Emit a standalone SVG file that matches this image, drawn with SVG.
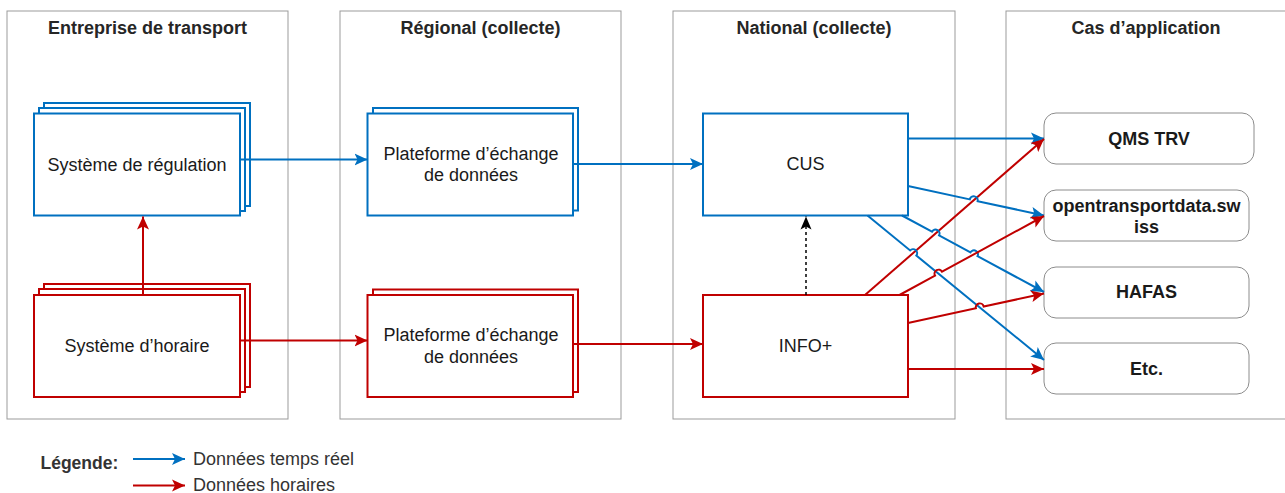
<svg xmlns="http://www.w3.org/2000/svg" width="1285" height="493" viewBox="0 0 1285 493">
<style>
text{font-family:"Liberation Sans",Arial,Helvetica,sans-serif;fill:#1a1a1a}
.hdr{font-size:18px;font-weight:bold;text-anchor:middle;fill:#262626}
.lbl{font-size:18px;text-anchor:middle}
.app{font-size:18px;font-weight:bold;text-anchor:middle}
.lane{fill:#fff;stroke:#9b9b9b;stroke-width:1}
.nb{fill:#fff;stroke:#0070C0;stroke-width:2}
.nr{fill:#fff;stroke:#C00000;stroke-width:2}
.ap{fill:#fff;stroke:#8c8c8c;stroke-width:1}
.eb{fill:none;stroke:#0070C0;stroke-width:2;marker-end:url(#ab)}
.er{fill:none;stroke:#C00000;stroke-width:2;marker-end:url(#ar)}
.ek{fill:none;stroke:#000;stroke-width:1.5;stroke-dasharray:3 3;marker-end:url(#ak)}
.leg{font-size:18px;fill:#333}
</style>
<defs>
<marker id="ab" markerWidth="14" markerHeight="14" refX="13" refY="7" orient="auto" markerUnits="userSpaceOnUse" viewBox="0 0 14 14"><path d="M0,1 L13,7 L0,13 L3,7 Z" fill="#0070C0"/></marker>
<marker id="ar" markerWidth="14" markerHeight="14" refX="13" refY="7" orient="auto" markerUnits="userSpaceOnUse" viewBox="0 0 14 14"><path d="M0,1 L13,7 L0,13 L3,7 Z" fill="#C00000"/></marker>
<marker id="ak" markerWidth="14" markerHeight="14" refX="13" refY="7" orient="auto" markerUnits="userSpaceOnUse" viewBox="0 0 14 14"><path d="M0,1.5 L13,7 L0,12.5 L3,7 Z" fill="#000"/></marker>
</defs>
<rect width="1285" height="493" fill="#fff"/>
<g id="lanes">
<g id="lane-entreprise"><rect class="lane" x="7" y="11" width="281" height="408"/><text class="hdr" x="147.5" y="34.3">Entreprise de transport</text></g>
<g id="lane-regional"><rect class="lane" x="340" y="11" width="281" height="408"/><text class="hdr" x="480.5" y="34.3">Régional (collecte)</text></g>
<g id="lane-national"><rect class="lane" x="673" y="11" width="282" height="408"/><text class="hdr" x="814" y="34.3">National (collecte)</text></g>
<g id="lane-cas"><rect class="lane" x="1006" y="11" width="290" height="408"/><text class="hdr" x="1146" y="34.3">Cas d’application</text></g>
</g>
<g id="node-regulation">
<rect class="nb" x="44" y="103" width="206" height="103"/>
<rect class="nb" x="39" y="108" width="206" height="103"/>
<rect class="nb" x="34" y="113.5" width="206" height="102"/>
<text class="lbl" x="137" y="170.8">Système de régulation</text>
</g>
<g id="node-horaire">
<rect class="nr" x="44" y="284" width="206" height="103"/>
<rect class="nr" x="39" y="289" width="206" height="103"/>
<rect class="nr" x="34" y="295" width="206" height="102"/>
<text class="lbl" x="137" y="352.3">Système d’horaire</text>
</g>
<g id="node-plateforme-rt">
<rect class="nb" x="373" y="108" width="205" height="102.5"/>
<rect class="nb" x="367.5" y="113.5" width="205.5" height="102"/>
<text class="lbl" x="471" y="159.6">Plateforme d’échange</text>
<text class="lbl" x="471" y="181.3">de données</text>
</g>
<g id="node-plateforme-h">
<rect class="nr" x="373" y="289.5" width="205" height="102.5"/>
<rect class="nr" x="367.5" y="295" width="205.5" height="102"/>
<text class="lbl" x="471" y="341.3">Plateforme d’échange</text>
<text class="lbl" x="471" y="363">de données</text>
</g>
<g id="node-cus">
<rect class="nb" x="703" y="113.5" width="205" height="102"/>
<text class="lbl" x="805.5" y="170">CUS</text>
</g>
<g id="node-info">
<rect class="nr" x="703" y="295" width="205" height="102"/>
<text class="lbl" x="805.5" y="352.3">INFO+</text>
</g>
<g id="node-qms"><rect class="ap" x="1044" y="113" width="210" height="51" rx="12"/><text class="app" x="1149" y="144.6">QMS TRV</text></g>
<g id="node-otd"><rect class="ap" x="1044" y="190" width="205" height="51" rx="12"/><text class="app" x="1146.5" y="212.3">opentransportdata.sw</text><text class="app" x="1146.5" y="232.5">iss</text></g>
<g id="node-hafas"><rect class="ap" x="1044" y="267" width="205" height="51" rx="12"/><text class="app" x="1146.5" y="298.2">HAFAS</text></g>
<g id="node-etc"><rect class="ap" x="1044" y="343" width="205" height="51" rx="12"/><text class="app" x="1146.5" y="375">Etc.</text></g>
<g id="connectors">
<path class="eb" d="M240,159.5 L367.5,159.5"/>
<path class="er" d="M240,340.5 L367.5,340.5"/>
<path class="er" d="M143,295 L143,216.5"/>
<path class="eb" d="M573,164 L703,164"/>
<path class="er" d="M573,344 L703,344"/>
<path class="ek" d="M806,295 L806,216.5"/>
<path class="eb" d="M908,138.5 L1044,138.5"/>
<path class="er" d="M865,295 L1044,139"/>
<path class="eb" d="M908,186 L969.81,199.41 A4,4 0 0 1 977.63,201.11 L1044,215.5"/>
<path class="eb" d="M902,215.5 L931.99,231.65 A4,4 0 0 1 939.03,235.45 L970.46,252.38 A4,4 0 0 1 977.50,256.18 L1044,292"/>
<path class="eb" d="M867.5,215.5 L910.16,250.43 A4,4 0 0 1 916.34,255.49 L1044,360"/>
<path class="er" d="M899.5,295 L935.03,275.57 A4,4 0 0 1 942.05,271.73 L1044,216"/>
<path class="er" d="M908,323 L975.88,308.27 A4,4 0 0 1 983.70,306.57 L1044,293.5"/>
<path class="er" d="M908,369 L1044,369"/>
</g>
<g id="legend">
<text x="40.5" y="469.3" style="font-size:17.5px;font-weight:bold;fill:#333">Légende:</text>
<path class="eb" d="M133,459 L185,459"/>
<text class="leg" x="193" y="465">Données temps réel</text>
<path class="er" d="M133,485.5 L185,485.5"/>
<text class="leg" x="193" y="491">Données horaires</text>
</g>
</svg>
